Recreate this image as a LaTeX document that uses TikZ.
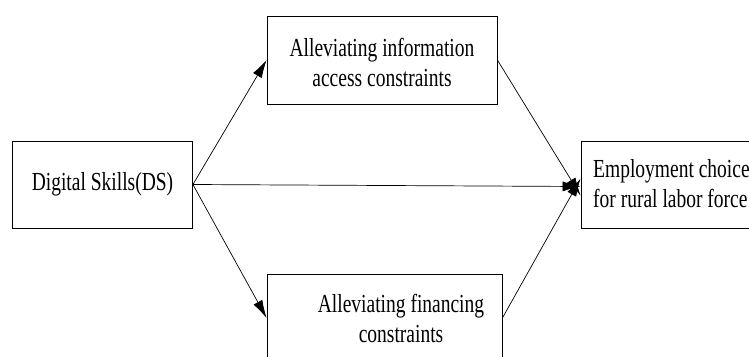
\documentclass[tikz,border=0pt]{standalone}
\usepackage{fontspec}
\setmainfont{Liberation Serif}[FakeStretch=0.75]
\usetikzlibrary{arrows.meta}
\tikzset{
  box/.style={draw, line width=0.8pt, rectangle, inner sep=0pt},
  txt/.style={inner sep=0pt, font=\fontsize{26}{30}\selectfont},
  arr/.style={line width=0.7pt, -{Latex[length=18pt,width=10pt]}}
}
\begin{document}
\begin{tikzpicture}[x=1pt,y=-1pt]
\useasboundingbox (0,0) rectangle (749,356);
\clip (0,0) rectangle (749,356);
\node[box, minimum width=180pt, minimum height=87pt] (ds) at (102.5,184.5) {};
\node[txt] (dst) at (102.5,184) {Digital Skills(DS)};
\node[box, minimum width=230pt, minimum height=88pt] (top) at (382,60) {};
\node[txt, align=center] (topt) at (382,62) {Alleviating information\\access constraints};
\node[box, minimum width=235pt, minimum height=88pt] (bot) at (384.5,318) {};
\node[txt, align=center] (bott) at (401,318) {Alleviating financing\\constraints};
\node[box, minimum width=200pt, minimum height=87pt] (emp) at (681,184.5) {};
\node[txt, align=left, anchor=west] (empt) at (593,184) {Employment choice\\for rural labor force};
\draw[arr] (ds.east) -- (top.west);
\draw[arr] (ds.east) -- (bot.west);
\draw[arr] (ds.east) -- ([yshift=-2pt]emp.west);
\draw[arr] (top.east) -- ([yshift=-11pt]emp.west);
\draw[arr] (bot.east) -- ([yshift=6pt]emp.west);
\end{tikzpicture}
\end{document}
